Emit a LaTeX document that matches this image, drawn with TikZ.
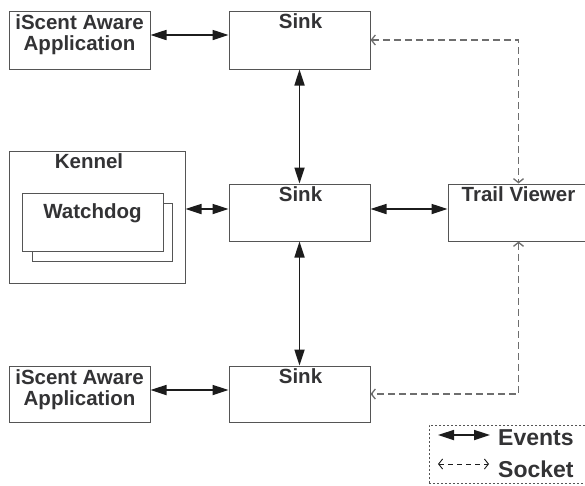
\documentclass[tikz,border=0pt]{standalone}
\usepackage{fontspec}
\setmainfont{Liberation Sans}
\usetikzlibrary{arrows.meta}
\definecolor{txt}{HTML}{333335}
\definecolor{edge}{HTML}{555555}
\definecolor{sock}{HTML}{6E6E6E}
\definecolor{evline}{HTML}{1C1C1C}
\begin{document}
\begin{tikzpicture}[x=1pt,y=-1pt,
  box/.style={draw=edge, line width=1pt, inner sep=0pt, fill=white},
  lbl/.style={font=\fontsize{20.5}{21}\selectfont\bfseries, text=txt, inner sep=0pt, align=center},
  leg/.style={font=\fontsize{23}{24}\selectfont\bfseries, text=txt, inner sep=0pt},
  ev/.style={draw=evline, line width=1.7pt,
    {Triangle[length=16pt,width=10pt]}-{Triangle[length=16pt,width=10pt]}},
  sk/.style={draw=sock, line width=1.3pt, dash pattern=on 7pt off 4pt,
    {Straight Barb[length=4pt,width=10pt]}-{Straight Barb[length=4pt,width=10pt]}},
  skleg/.style={draw=evline, line width=0.9pt, dash pattern=on 5pt off 4pt,
    {Straight Barb[length=4pt,width=10pt]}-{Straight Barb[length=4pt,width=10pt]}},
]
\path[use as bounding box, clip] (0,0) rectangle (585,485);

% applications
\node[box, minimum width=141pt, minimum height=58pt] (app1) at (79.5,40) {};
\node[lbl, anchor=north] (app1t) at ([yshift=-3.5pt]app1.north) {iScent Aware\\Application};
\node[box, minimum width=141pt, minimum height=56pt] (app2) at (79.5,394) {};
\node[lbl, anchor=north] (app2t) at ([yshift=-3.5pt]app2.north) {iScent Aware\\Application};

% sinks
\node[box, minimum width=141pt, minimum height=58pt,
  label={[lbl, anchor=base, yshift=-18pt, xshift=1pt]north:Sink}] (sink1) at (299.5,40) {};
\node[box, minimum width=141pt, minimum height=57pt,
  label={[lbl, anchor=base, yshift=-18pt, xshift=1pt]north:Sink}] (sink2) at (299.5,212.5) {};
\node[box, minimum width=141pt, minimum height=56pt,
  label={[lbl, anchor=base, yshift=-18pt, xshift=1pt]north:Sink}] (sink3) at (299.5,394) {};

% trail viewer
\node[box, minimum width=141pt, minimum height=57pt,
  label={[lbl, anchor=base, yshift=-18pt]north:Trail Viewer}] (viewer) at (518.5,212.5) {};

% kennel with stacked watchdogs
\node[box, minimum width=176pt, minimum height=132pt,
  label={[lbl, anchor=base, yshift=-18pt, xshift=-8pt]north:Kennel}] (kennel) at (97,217) {};
\node[box, minimum width=140pt, minimum height=58pt] (dogback) at (102,232) {};
\node[box, minimum width=141pt, minimum height=58pt,
  label={[lbl, anchor=base, yshift=-26pt]north:Watchdog}] (dog) at (92.5,222) {};

% event connections
\coordinate (m1) at ([yshift=3.5pt]sink2.west);
\coordinate (m2) at ([yshift=3.5pt]sink2.east);
\draw[ev] ([yshift=5pt]app1.east) -- ([yshift=5pt]sink1.west);
\draw[ev] ([yshift=4pt]app2.east) -- ([yshift=4pt]sink3.west);
\draw[ev] (m1 -| kennel.east) -- (m1);
\draw[ev] (m2) -- (m2 -| viewer.west);
\draw[ev] (sink1.south) -- (sink2.north);
\draw[ev] (sink2.south) -- (sink3.north);

% socket connections
\draw[sk] (sink1.east) -| (viewer.north);
\draw[sk] (viewer.south) |- (sink3.east);

% legend
\node[draw=edge, line width=1pt, dash pattern=on 2pt off 2pt, inner sep=0pt,
  minimum width=161pt, minimum height=58pt] (legend) at (509.5,454) {};
\coordinate (e1) at (438,435);
\coordinate (e2) at (490,435);
\coordinate (s1) at (438,464);
\coordinate (s2) at (489,464);
\draw[ev] (e1) -- (e2);
\draw[skleg] (s1) -- (s2);
\node[leg, anchor=base west] (evt) at (498,445) {Events};
\node[leg, anchor=base west] (sct) at (498,477) {Socket};
\end{tikzpicture}
\end{document}
